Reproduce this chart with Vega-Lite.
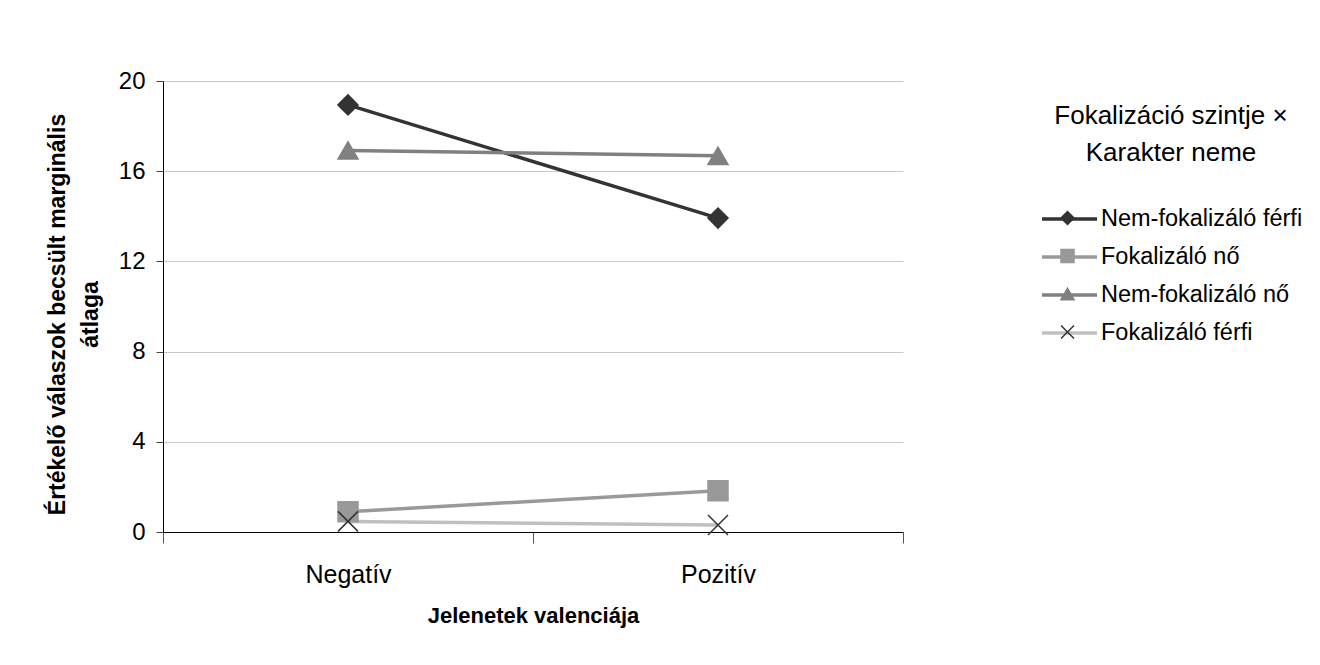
{
  "$schema": "https://vega.github.io/schema/vega-lite/v6.json",
  "width": 740,
  "height": 451,
  "autosize": {"type": "none"},
  "padding": {"left": 163, "top": 81, "right": 417, "bottom": 133},
  "background": "white",
  "config": {
    "font": "Liberation Sans",
    "view": {"stroke": null},
    "axis": {"labelColor": "#000000", "titleColor": "#000000", "labelFont": "Liberation Sans", "titleFont": "Liberation Sans"},
    "legend": {"labelFont": "Liberation Sans", "titleFont": "Liberation Sans"}
  },
  "data": {
    "values": [
      {"series": "Nem-fokalizáló férfi", "valence": "Negatív", "mean": 18.94},
      {"series": "Nem-fokalizáló férfi", "valence": "Pozitív", "mean": 13.92},
      {"series": "Fokalizáló nő", "valence": "Negatív", "mean": 0.9},
      {"series": "Fokalizáló nő", "valence": "Pozitív", "mean": 1.83},
      {"series": "Nem-fokalizáló nő", "valence": "Negatív", "mean": 16.92},
      {"series": "Nem-fokalizáló nő", "valence": "Pozitív", "mean": 16.68},
      {"series": "Fokalizáló férfi", "valence": "Negatív", "mean": 0.47},
      {"series": "Fokalizáló férfi", "valence": "Pozitív", "mean": 0.31}
    ]
  },
  "encoding": {
    "x": {
      "field": "valence",
      "type": "nominal",
      "sort": ["Negatív", "Pozitív"],
      "scale": {"paddingInner": 0, "paddingOuter": 0},
      "axis": {
        "title": "Jelenetek valenciája",
        "labelAngle": 0,
        "labelFontSize": 25,
        "labelPadding": 19,
        "tickBand": "extent",
        "tickSize": 11,
        "tickColor": "#555555",
        "domainColor": "#000000",
        "titleFontSize": 22,
        "titleFontWeight": "bold",
        "titleBaseline": "alphabetic",
        "titleY": 90,
        "grid": false
      }
    },
    "y": {
      "field": "mean",
      "type": "quantitative",
      "scale": {"domain": [0, 20], "nice": false},
      "axis": {
        "title": ["Értékelő válaszok becsült marginális", "átlaga"],
        "values": [0, 4, 8, 12, 16, 20],
        "labelFontSize": 24,
        "labelPadding": 11,
        "tickSize": 7,
        "tickColor": "#444444",
        "domainColor": "#000000",
        "gridColor": "#c8c8c8",
        "titleFontSize": 23,
        "titleFontWeight": "bold",
        "titleLineHeight": 33,
        "titleAngle": -90,
        "titleAlign": "center",
        "titleBaseline": "bottom",
        "titleX": -94,
        "titleY": 233
      }
    }
  },
  "layer": [
    {
      "mark": {"type": "line", "strokeWidth": 3.5},
      "encoding": {
        "color": {
          "field": "series",
          "type": "nominal",
          "sort": ["Nem-fokalizáló férfi", "Fokalizáló nő", "Nem-fokalizáló nő", "Fokalizáló férfi"],
          "scale": {"range": ["#333333", "#999999", "#808080", "#c0c0c0"]},
          "legend": {
            "orient": "none",
            "legendX": 877,
            "legendY": 22,
            "title": ["Fokalizáció szintje ×", "Karakter neme"],
            "titleFontSize": 26,
            "titleFontWeight": "normal",
            "titleLineHeight": 37,
            "titleLimit": 500,
            "titleAnchor": "middle",
            "titleAlign": "center",
            "titlePadding": 34,
            "titleColor": "#000000",
            "labelFontSize": 23.5,
            "labelColor": "#000000",
            "labelOffset": 2,
            "labelLimit": 400,
            "symbolType": "stroke",
            "symbolSize": 3025,
            "symbolStrokeWidth": 3.5,
            "clipHeight": 38,
            "rowPadding": 0,
            "padding": 0
          }
        }
      }
    },
    {
      "mark": {"type": "point", "filled": true, "size": 400, "strokeWidth": 1.5, "opacity": 1},
      "encoding": {
        "shape": {
          "field": "series",
          "type": "nominal",
          "scale": {
            "domain": ["Nem-fokalizáló férfi", "Fokalizáló nő", "Nem-fokalizáló nő", "Fokalizáló férfi"],
            "range": ["diamond", "square", "triangle-up", "M-1,-1L1,1M-1,1L1,-1"]
          },
          "legend": {
            "orient": "none",
            "legendX": 897,
            "legendY": 118,
            "title": null,
            "labelExpr": "''",
            "labelOpacity": 0,
            "labelFontSize": 10,
            "symbolSize": 170,
            "symbolStrokeWidth": 1.5,
            "clipHeight": 38,
            "rowPadding": 0,
            "padding": 0
          }
        },
        "fill": {
          "field": "series",
          "type": "nominal",
          "scale": {
            "domain": ["Nem-fokalizáló férfi", "Fokalizáló nő", "Nem-fokalizáló nő", "Fokalizáló férfi"],
            "range": ["#333333", "#999999", "#808080", "transparent"]
          }
        },
        "stroke": {
          "field": "series",
          "type": "nominal",
          "scale": {
            "domain": ["Nem-fokalizáló férfi", "Fokalizáló nő", "Nem-fokalizáló nő", "Fokalizáló férfi"],
            "range": ["#333333", "#999999", "#808080", "#333333"]
          }
        }
      }
    }
  ]
}
